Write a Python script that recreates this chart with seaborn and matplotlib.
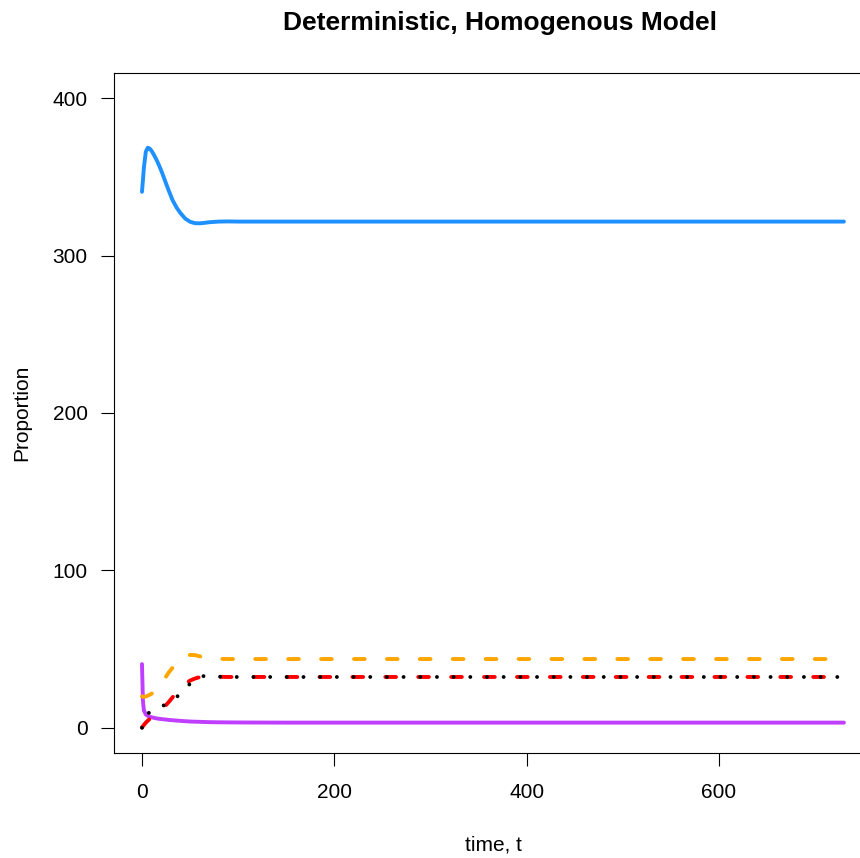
import numpy as np
import pandas as pd
import matplotlib
matplotlib.use("Agg")
import matplotlib.pyplot as plt
import seaborn as sns

# ---- data ----
t = [0, 1, 2, 4, 6, 8, 10, 12, 15, 18, 21, 24, 28, 32, 36, 40, 45, 50, 55, 60,
     65, 70, 80, 90, 100, 120, 150, 200, 300, 400, 500, 600, 730]

blue = [340.5, 348, 356, 366, 368.5, 368, 366.5, 364.5, 361, 357, 352.5, 347.5,
        341, 335, 330.5, 327, 323.5, 321.5, 320.6, 320.5, 320.8, 321.2, 321.6,
        321.7, 321.6, 321.6, 321.6, 321.6, 321.6, 321.6, 321.6, 321.6, 321.6]

purple = [40.5, 17, 11, 8.5, 7.6, 7.1, 6.7, 6.4, 6.0, 5.7, 5.5, 5.3, 5.0, 4.8,
          4.6, 4.4, 4.2, 4.0, 3.9, 3.8, 3.7, 3.6, 3.5, 3.45, 3.4, 3.35, 3.3,
          3.3, 3.3, 3.3, 3.3, 3.3, 3.3]

orange = [20, 19.8, 19.7, 19.9, 20.4, 21.0, 21.7, 22.4, 24, 26, 28.6, 31.6,
          35.3, 38.3, 41, 43.2, 45.3, 46.3, 46.2, 45.4, 44.7, 44.2, 43.8, 43.7,
          43.7, 43.7, 43.7, 43.7, 43.7, 43.7, 43.7, 43.7, 43.7]

red = [0.3, 1.0, 1.8, 3.3, 4.5, 5.6, 6.6, 7.8, 9.5, 11, 12.3, 13.8, 16.5, 19.5,
       22.5, 25.2, 28, 30, 31.3, 32.2, 32.6, 32.6, 32.4, 32.3, 32.3, 32.3, 32.3,
       32.3, 32.3, 32.3, 32.3, 32.3, 32.3]

black = [0, 2.5, 4.5, 7.0, 8.8, 10.0, 10.8, 11.4, 12.2, 13.0, 13.8, 14.6, 16.0,
         17.8, 19.5, 21.8, 25, 28, 30.5, 32.2, 33.0, 32.9, 32.5, 32.3, 32.3,
         32.3, 32.3, 32.3, 32.3, 32.3, 32.3, 32.3, 32.3]

x_ticks = [0, 200, 400, 600]
y_ticks = [0, 100, 200, 300, 400]

# ---- style ----
sns.set_style("ticks")
plt.rcParams['font.family'] = ['Liberation Sans', 'DejaVu Sans']
plt.rcParams['lines.scale_dashes'] = False
plt.rcParams['text.color'] = 'black'
plt.rcParams['axes.labelcolor'] = 'black'

fig = plt.figure(figsize=(8.6, 8.58), dpi=100)
W, H = 860, 858
left_px, right_px, top_px, bot_px = 113.9, 872.0, 73.0, 753.0
ax = fig.add_axes([left_px / W, 1 - bot_px / H, (right_px - left_px) / W,
                   (bot_px - top_px) / H])

lw = 2.8
sns.lineplot(x=t, y=blue, ax=ax, color="#1E90FF", linewidth=lw,
             solid_capstyle="round")
sns.lineplot(x=t, y=purple, ax=ax, color="#BF3EFF", linewidth=lw,
             solid_capstyle="round")
l_or = sns.lineplot(x=t, y=orange, ax=ax, color="#FFA500", linewidth=lw).lines[-1]
l_or.set_dashes((7.7, 16.0))
l_or.set_dash_capstyle("round")
l_red = sns.lineplot(x=t, y=red, ax=ax, color="#FF0000", linewidth=lw).lines[-1]
l_red.set_dashes((7.7, 16.0))
l_red.set_dash_capstyle("round")
l_bk = sns.lineplot(x=t, y=black, ax=ax, color="black", linewidth=lw).lines[-1]
l_bk.set_dashes((0.01, 12.0))
l_bk.set_dash_capstyle("round")

ax.set_xlim(-29.2, 759.2)
ax.set_ylim(-16, 416)
ax.set_xticks(x_ticks)
ax.set_yticks(y_ticks)
ax.tick_params(axis='both', direction='out', length=9.4, width=0.8,
               color='black', labelsize=15, labelcolor='black')
ax.tick_params(axis='x', pad=12)
ax.tick_params(axis='y', pad=9.4)
for s in ax.spines.values():
    s.set_visible(True)
    s.set_color('black')
    s.set_linewidth(0.8)

ax.set_xlabel("time, t", fontsize=15, color='black')
ax.set_ylabel("Proportion", fontsize=15, color='black')
ax.xaxis.set_label_coords(0.5, (bot_px - 845) / (bot_px - top_px))
ax.xaxis.label.set_va('center')
ax.yaxis.set_label_coords((22 - left_px) / (right_px - left_px), 0.5)
ax.yaxis.label.set_va('center')

fig.text(500 / W, 1 - 30 / H, "Deterministic, Homogenous Model", fontsize=19,
         fontweight='bold', ha='center', va='baseline', color='black')

fig.savefig("out.png", dpi=100)
